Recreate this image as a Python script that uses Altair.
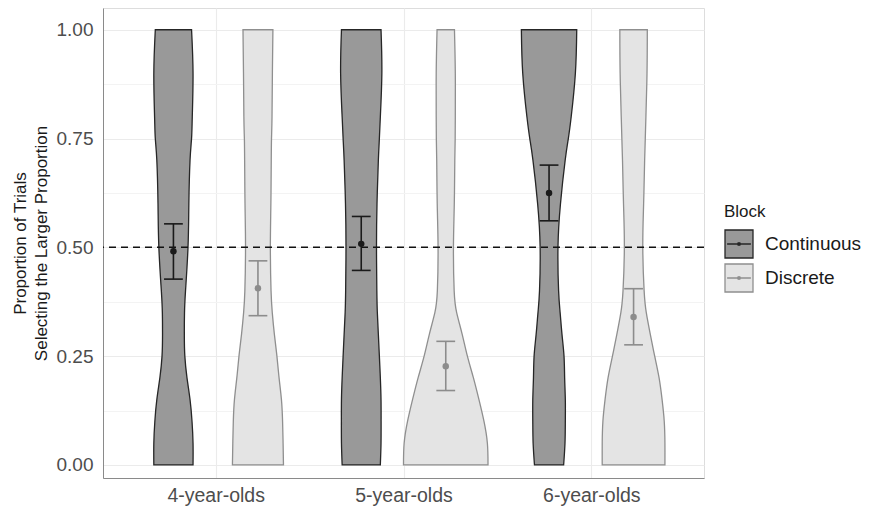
import altair as alt
import pandas as pd

# ---------------- data ----------------
AGES = ["4-year-olds", "5-year-olds", "6-year-olds"]
BLOCKS = ["Continuous", "Discrete"]

# violin outline: relative width (1 = widest violin) at each proportion level
Y_LEVELS = [0.0, 0.05, 0.10, 0.15, 0.20, 0.25, 0.30, 0.35, 0.40, 0.50, 0.60, 0.70, 0.75, 0.80, 0.90, 1.00]
W_4_CONT = [0.464, 0.464, 0.440, 0.393, 0.321, 0.270, 0.258, 0.262, 0.286, 0.345, 0.365, 0.393, 0.429, 0.446, 0.464, 0.429]
W_4_DISC = [0.604, 0.595, 0.583, 0.556, 0.500, 0.449, 0.389, 0.339, 0.310, 0.294, 0.306, 0.315, 0.321, 0.333, 0.342, 0.354]
W_5_CONT = [0.452, 0.468, 0.470, 0.468, 0.452, 0.429, 0.405, 0.381, 0.369, 0.361, 0.373, 0.405, 0.429, 0.452, 0.488, 0.468]
W_5_DISC = [1.000, 0.985, 0.905, 0.786, 0.655, 0.512, 0.389, 0.258, 0.199, 0.182, 0.202, 0.214, 0.223, 0.226, 0.226, 0.206]
W_6_CONT = [0.345, 0.377, 0.385, 0.385, 0.369, 0.354, 0.306, 0.262, 0.226, 0.211, 0.270, 0.381, 0.456, 0.524, 0.623, 0.655]
W_6_DISC = [0.742, 0.742, 0.726, 0.675, 0.604, 0.500, 0.396, 0.301, 0.250, 0.218, 0.238, 0.262, 0.277, 0.292, 0.318, 0.325]

# means and error-bar limits, order: 4C, 4D, 5C, 5D, 6C, 6D
MEAN = [0.491, 0.406, 0.508, 0.227, 0.625, 0.340]
LOW = [0.427, 0.343, 0.447, 0.171, 0.561, 0.276]
HIGH = [0.554, 0.469, 0.571, 0.284, 0.689, 0.405]

CHANCE = 0.5

# ---------------- tables ----------------
widths = [W_4_CONT, W_4_DISC, W_5_CONT, W_5_DISC, W_6_CONT, W_6_DISC]
rows = []
k = 0
for ai in range(len(AGES)):
    for b in BLOCKS:
        for yv, wv in zip(Y_LEVELS, widths[k]):
            rows.append({"vid": f"v{ai}{b}", "age": ai + 1, "block": b, "y": yv, "w": wv})
        k += 1
vdf = pd.DataFrame(rows)

erows = []
k = 0
for ai in range(len(AGES)):
    for b in BLOCKS:
        erows.append({"age": ai + 1, "block": b, "mean": MEAN[k], "lo": LOW[k], "hi": HIGH[k]})
        k += 1
edf = pd.DataFrame(erows)

# ---------------- styling ----------------
FONT = "Liberation Sans"
DODGE = 0.225
VW = 0.225
CAP = 0.05

xscale = alt.Scale(domain=[0.4, 3.6], nice=False, zero=False)
yscale = alt.Scale(domain=[-0.03, 1.05], nice=False, zero=False)

label_js = "[" + ",".join(f"'{a}'" for a in AGES) + "][datum.value - 1]"

xaxis = alt.Axis(
    values=[1, 2, 3], labelExpr=label_js, title=None,
    labelFontSize=19.5, labelColor="#4d4d4d", labelPadding=8, labelFont=FONT,
    ticks=False, tickSize=0, domainColor="#8a8a8a", domainWidth=1,
    grid=True, gridColor="#ebebeb", gridWidth=1.1,
)
yaxis = alt.Axis(
    values=[0, 0.125, 0.25, 0.375, 0.5, 0.625, 0.75, 0.875, 1.0],
    labelExpr="(datum.value * 4) % 1 == 0 ? format(datum.value, '.2f') : ''",
    title=["Proportion of Trials", "Selecting the Larger Proportion"],
    titleFontSize=17, titleFontWeight="normal", titleColor="#1a1a1a", titleFont=FONT,
    titlePadding=6, titleLineHeight=21,
    labelFontSize=19, labelColor="#4d4d4d", labelPadding=10, labelFont=FONT,
    ticks=False, tickSize=0, domainColor="#8a8a8a", domainWidth=1,
    grid=True,
    gridColor={"condition": {"test": "(datum.value * 4) % 1 != 0", "value": "#f3f3f3"}, "value": "#ebebeb"},
    gridWidth=1.1,
)

SYMBOL = ("M-1,-1H1V1H-1Z M-0.85,0H0.85 "
          "M-0.1,0A0.1,0.1 0 1,0 0.1,0A0.1,0.1 0 1,0 -0.1,0Z")

legend = alt.Legend(
    title="Block", orient="none", legendX=621, legendY=196,
    symbolType=SYMBOL, symbolSize=784, symbolStrokeWidth=1.3,
    labelFontSize=19, labelFont=FONT, labelColor="#1a1a1a", labelOffset=11,
    titleFontSize=17, titleFont=FONT, titleFontWeight="normal", titleColor="#1a1a1a",
    titlePadding=8, rowPadding=0, padding=0, symbolOpacity=1,
)

fill_scale = alt.Scale(domain=BLOCKS, range=["#999999", "#e4e4e4"])
stroke_scale = alt.Scale(domain=BLOCKS, range=["#262626", "#8f8f8f"])

# rows are already sorted by y within each violin
violins = alt.Chart(vdf).transform_calculate(
    center=f"datum.age + (datum.block == 'Continuous' ? -{DODGE} : {DODGE})"
).transform_calculate(
    left=f"datum.center - datum.w * {VW}",
    right=f"datum.center + datum.w * {VW}",
).mark_area(orient="horizontal", interpolate="natural", strokeWidth=1.3).encode(
    y=alt.Y("y:Q", scale=yscale, axis=yaxis),
    x=alt.X("left:Q", scale=xscale, axis=xaxis),
    x2="right:Q",
    fill=alt.Fill("block:N", scale=fill_scale, legend=legend),
    stroke=alt.Stroke("block:N", scale=stroke_scale, legend=legend),
    detail="vid:N",
)

chance = alt.Chart(pd.DataFrame({"y": [CHANCE]})).mark_rule(
    color="#111111", strokeWidth=1.5, strokeDash=[7, 5]
).encode(y=alt.Y("y:Q", scale=yscale))

ebase = alt.Chart(edf).transform_calculate(
    center=f"datum.age + (datum.block == 'Continuous' ? -{DODGE} : {DODGE})",
    col="datum.block == 'Continuous' ? '#1a1a1a' : '#8c8c8c'",
).transform_calculate(
    cl=f"datum.center - {CAP}",
    cr=f"datum.center + {CAP}",
)

vbar = ebase.mark_rule(strokeWidth=1.6).encode(
    x=alt.X("center:Q", scale=xscale),
    y=alt.Y("lo:Q", scale=yscale),
    y2="hi:Q",
    color=alt.Color("col:N", scale=None, legend=None),
)
cap_lo = ebase.mark_rule(strokeWidth=1.6).encode(
    x=alt.X("cl:Q", scale=xscale), x2="cr:Q",
    y=alt.Y("lo:Q", scale=yscale),
    color=alt.Color("col:N", scale=None, legend=None),
)
cap_hi = ebase.mark_rule(strokeWidth=1.6).encode(
    x=alt.X("cl:Q", scale=xscale), x2="cr:Q",
    y=alt.Y("hi:Q", scale=yscale),
    color=alt.Color("col:N", scale=None, legend=None),
)
points = ebase.mark_circle(size=42, opacity=1).encode(
    x=alt.X("center:Q", scale=xscale),
    y=alt.Y("mean:Q", scale=yscale),
    color=alt.Color("col:N", scale=None, legend=None),
)

chart = alt.layer(violins, chance, vbar, cap_lo, cap_hi, points).properties(
    width=601, height=470,
    autosize=alt.AutoSizeParams(type="none"),
    padding={"left": 95, "top": 0, "right": 158, "bottom": 28},
).configure_view(stroke=None).configure(font=FONT, background="white")

chart.save("out.html", embed_options={"renderer": "svg", "actions": False})
